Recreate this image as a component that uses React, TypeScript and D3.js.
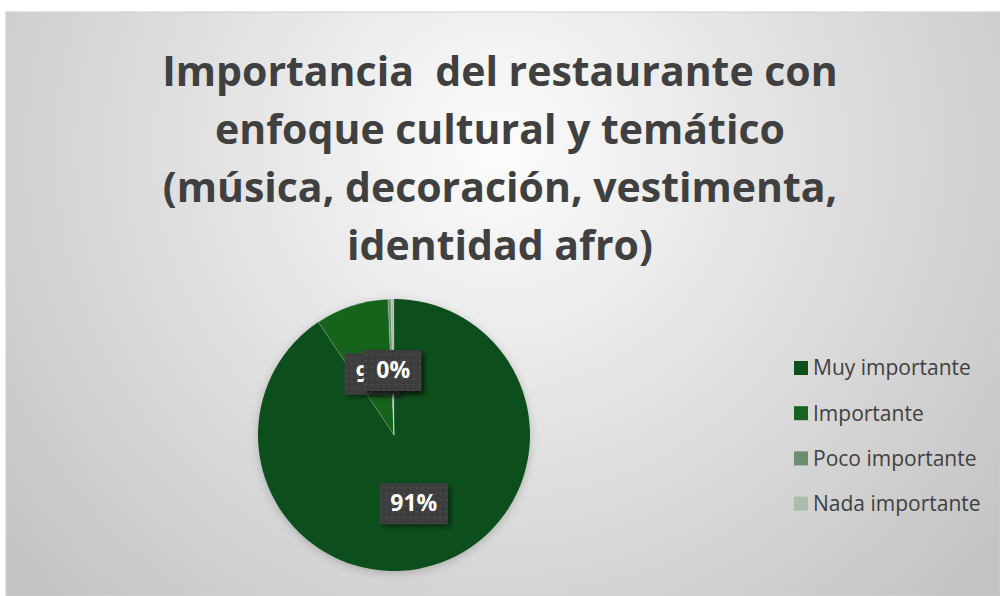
import React, { useEffect, useRef } from 'react';
import * as d3 from 'd3';

const categories = ['Muy importante', 'Importante', 'Poco importante', 'Nada importante'];
const values = [90.6, 8.7, 0.35, 0.35];
const labels = ['91%', '9%', '0%', '0%'];
const colors = ['#0f4f1b', '#17631f', '#6b8f6e', '#a9bdaa'];
const titleLines = [
  'Importancia  del restaurante con',
  'enfoque cultural y temático',
  '(música, decoración, vestimenta,',
  'identidad afro)',
];

export default function App() {
  const svgRef = useRef<SVGSVGElement>(null);

  useEffect(() => {
    const svg = d3.select(svgRef.current);
    svg.selectAll('*').remove();

    const W = 1000;
    const H = 596;
    const cx = 394;
    const cy = 435;
    const r = 136;
    const font = '"Open Sans", "Liberation Sans", sans-serif';

    const defs = svg.append('defs');

    // chart area background
    const bg = defs
      .append('radialGradient')
      .attr('id', 'bg')
      .attr('gradientUnits', 'userSpaceOnUse')
      .attr('cx', 500)
      .attr('cy', 150)
      .attr('r', 640);
    bg.append('stop').attr('offset', '0%').attr('stop-color', '#fcfcfc');
    bg.append('stop').attr('offset', '100%').attr('stop-color', '#c3c3c3');

    const dots = defs
      .append('pattern')
      .attr('id', 'dots')
      .attr('width', 6)
      .attr('height', 6)
      .attr('patternUnits', 'userSpaceOnUse');
    dots.append('rect').attr('width', 6).attr('height', 6).attr('fill', '#3d3d3d');
    dots.append('rect').attr('x', 2).attr('y', 2).attr('width', 1.5).attr('height', 1.5).attr('fill', '#555');

    const shadow = defs.append('filter').attr('id', 'shadow').attr('x', '-20%').attr('y', '-20%').attr('width', '150%').attr('height', '150%');
    shadow.append('feDropShadow').attr('dx', 3).attr('dy', 3).attr('stdDeviation', 2.5).attr('flood-color', '#000').attr('flood-opacity', 0.45);

    const pieShadow = defs.append('filter').attr('id', 'pieShadow').attr('x', '-20%').attr('y', '-20%').attr('width', '140%').attr('height', '140%');
    pieShadow.append('feDropShadow').attr('dx', 0).attr('dy', 2).attr('stdDeviation', 4).attr('flood-color', '#000').attr('flood-opacity', 0.2);

    svg.append('rect').attr('width', W).attr('height', H).attr('fill', '#fff');
    svg
      .append('rect')
      .attr('x', 6)
      .attr('y', 12)
      .attr('width', W - 6)
      .attr('height', H - 12)
      .attr('fill', 'url(#bg)')
      .attr('stroke', '#d0d0d0')
      .attr('stroke-width', 1);

    // title
    const title = svg
      .append('text')
      .attr('text-anchor', 'middle')
      .attr('font-family', font)
      .attr('font-weight', 'bold')
      .attr('font-size', 41)
      .attr('fill', '#404040')
      .style('white-space', 'pre');
    titleLines.forEach((t, i) => {
      title.append('tspan').attr('x', 500).attr('y', 86 + i * 58).text(t);
    });

    // pie
    const pie = d3.pie<number>().sort(null).value((d) => d);
    const arcs = pie(values);
    const arc = d3.arc<d3.PieArcDatum<number>>().innerRadius(0).outerRadius(r);
    const g = svg.append('g').attr('transform', `translate(${cx},${cy})`);

    g.append('g')
      .attr('filter', 'url(#pieShadow)')
      .selectAll('path')
      .data(arcs)
      .enter()
      .append('path')
      .attr('d', arc)
      .attr('fill', (d, i) => colors[i])
      .attr('stroke', (d, i) => (i === 0 ? 'none' : 'rgba(255,255,255,0.35)'))
      .attr('stroke-width', 0.6);

    // data labels
    const lg = g
      .selectAll('.lbl')
      .data(arcs)
      .enter()
      .append('g')
      .attr('class', 'lbl')
      .attr('transform', (d) => {
        const [x, y] = arc.centroid(d);
        return `translate(${x},${y + 3})`;
      });
    lg.append('rect')
      .attr('x', (d, i) => (labels[i].length > 2 ? -34 : -28))
      .attr('y', -20)
      .attr('width', (d, i) => (labels[i].length > 2 ? 68 : 56))
      .attr('height', 41)
      .attr('fill', 'url(#dots)')
      .attr('filter', 'url(#shadow)');
    lg.append('text')
      .attr('text-anchor', 'middle')
      .attr('dy', '0.36em')
      .attr('font-family', font)
      .attr('font-weight', 'bold')
      .attr('font-size', 23)
      .attr('fill', '#fff')
      .text((d, i) => labels[i]);

    // legend
    const legend = svg
      .append('g')
      .selectAll('g')
      .data(categories)
      .enter()
      .append('g')
      .attr('transform', (d, i) => `translate(794,${368 + i * 45.2})`);
    legend
      .append('rect')
      .attr('y', -7)
      .attr('width', 14)
      .attr('height', 14)
      .attr('fill', (d, i) => colors[i]);
    legend
      .append('text')
      .attr('x', 19)
      .attr('dy', '0.35em')
      .attr('font-family', font)
      .attr('font-size', 21)
      .attr('fill', '#404040')
      .text((d) => d);
  }, []);

  return (
    <svg
      ref={svgRef}
      width={1000}
      height={596}
      style={{ position: 'absolute', left: 0, top: 0, display: 'block' }}
    />
  );
}
